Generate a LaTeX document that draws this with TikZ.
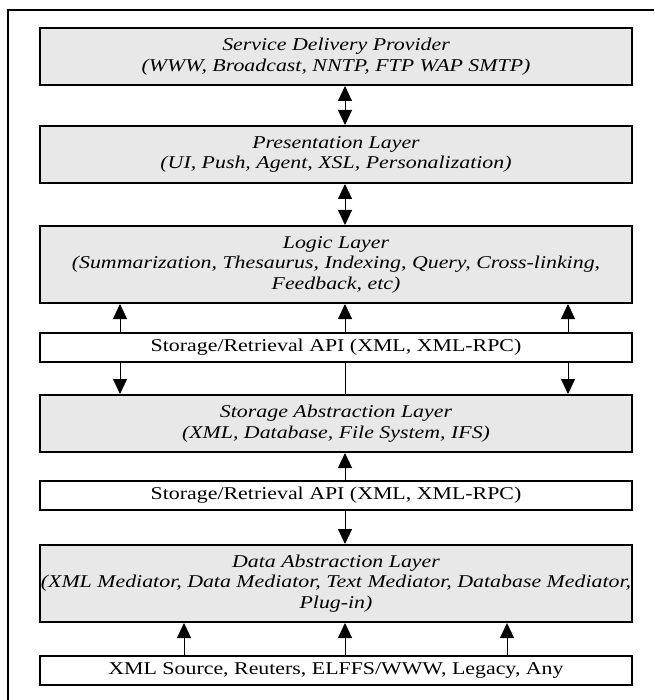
\documentclass[tikz,border=0pt]{standalone}
\usepackage{fontspec}
\setmainfont{Liberation Serif}[FakeStretch=1.215]
\usetikzlibrary{arrows.meta}
\newlength{\du}
\setlength{\du}{1pt}
\definecolor{layergray}{rgb}{0.910000, 0.910000, 0.910000}
\tikzset{
  layerbox/.style={draw, line width=2\du, fill=layergray, minimum width=592\du,
    inner sep=0pt, align=center, font=\itshape\fontsize{18}{20.5}\selectfont},
  apibox/.style={draw, line width=2\du, fill=white, minimum width=592\du,
    minimum height=29\du, inner sep=0pt, font=\fontsize{18}{20.5}\selectfont},
  link/.style={line width=1\du, -{Triangle[width=14pt,length=15pt]}},
  duplex/.style={line width=1\du, {Triangle[width=14pt,length=15pt]}-{Triangle[width=14pt,length=15pt]}},
}

\begin{document}
\begin{tikzpicture}
\pgftransformxscale{1.000000}
\pgftransformyscale{-1.000000}
\useasboundingbox (0\du,0\du) rectangle (654\du,700\du);
% outer frame (cut at the page edge)
\draw[line width=1.5\du] (8\du,700\du) |- (654\du,10\du);
% column positions of the connectors
\coordinate (colL) at (120\du,0\du);
\coordinate (colM) at (345\du,0\du);
\coordinate (colR) at (568\du,0\du);
\coordinate (srcL) at (184\du,0\du);
\coordinate (srcR) at (507\du,0\du);
% layers
\node[layerbox, minimum height=57\du] (sdp) at (336\du,56.5\du){Service Delivery Provider\\(WWW, Broadcast, NNTP, FTP WAP SMTP)};
\node[layerbox, minimum height=57\du] (pres) at (336\du,154.5\du){Presentation Layer\\(UI, Push, Agent, XSL, Personalization)};
\node[layerbox, minimum height=77\du] (logic) at (336\du,264.5\du){Logic Layer\\(Summarization, Thesaurus, Indexing, Query, Cross-linking,\\Feedback, etc)};
\node[apibox] (api1) at (336\du,347.5\du){Storage/Retrieval API (XML, XML-RPC)};
\node[layerbox, minimum height=57\du] (store) at (336\du,423.5\du){Storage Abstraction Layer\\(XML, Database, File System, IFS)};
\node[apibox] (api2) at (336\du,495.5\du){Storage/Retrieval API (XML, XML-RPC)};
\node[layerbox, minimum height=77\du] (data) at (336\du,583.5\du){Data Abstraction Layer\\(XML Mediator, Data Mediator, Text Mediator, Database Mediator,\\Plug-in)};
\node[apibox] (source) at (336\du,670.5\du){XML Source, Reuters, ELFFS/WWW, Legacy, Any};
% connectors
\draw[duplex] (sdp.south -| colM)--(pres.north -| colM);
\draw[duplex] (pres.south -| colM)--(logic.north -| colM);
\draw[link] (api1.north -| colL)--(logic.south -| colL);
\draw[link] (api1.north -| colM)--(logic.south -| colM);
\draw[link] (api1.north -| colR)--(logic.south -| colR);
\draw[link] (api1.south -| colL)--(store.north -| colL);
\draw[line width=1\du] (api1.south -| colM)--(store.north -| colM);
\draw[link] (api1.south -| colR)--(store.north -| colR);
\draw[link] (api2.north -| colM)--(store.south -| colM);
\draw[link] (api2.south -| colM)--(data.north -| colM);
\draw[link] (source.north -| srcL)--(data.south -| srcL);
\draw[link] (source.north -| colM)--(data.south -| colM);
\draw[link] (source.north -| srcR)--(data.south -| srcR);
\end{tikzpicture}
\end{document}
